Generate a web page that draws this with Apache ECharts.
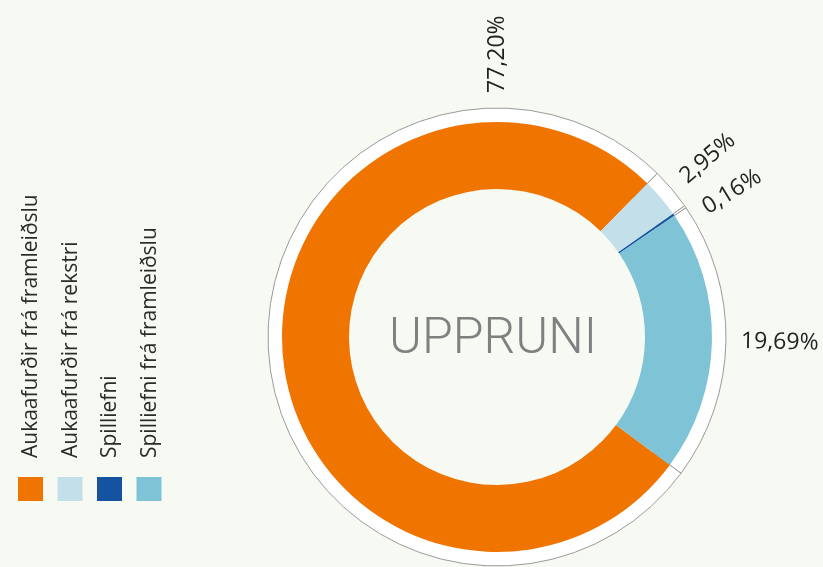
<!DOCTYPE html>
<html>
<head>
<meta charset="utf-8">
<script src="https://cdn.jsdelivr.net/npm/echarts@6/dist/echarts.min.js"></script>
<style>
html,body{margin:0;padding:0;background:#f6faf3;}
#chart{width:823px;height:567px;}
</style>
</head>
<body>
<div id="chart"></div>
<script>
// ---- data ----
const categories = ['Aukaafurðir frá framleiðslu', 'Aukaafurðir frá rekstri', 'Spilliefni', 'Spilliefni frá framleiðslu'];
const values = [77.20, 2.95, 0.16, 19.69];
const colors = ['#f07400', '#c3dfea', '#1553a1', '#7fc3d6'];
const centerTitle = 'UPPRUNI';

// ---- layout ----
const CX = 497, CY = 337;
const R_IN = 148, R_OUT = 215, R_RING = 229, LABEL_R = 244;
const START_ANGLE = -36.5;
const LABEL_ANGLE_OVERRIDE = {0: 90};
const LABEL_ANGLE_NUDGE = {2: -3};
const LEG_X0 = 30.5, LEG_DX = 39.5, LEG_SW = 25, LEG_SH = 24, LEG_SY = 477, LEG_TY = 458;
const FONT = '"Open Sans", Roboto, sans-serif';

const total = values.reduce((a, b) => a + b, 0);
function labelAngle(i) {
  if (LABEL_ANGLE_OVERRIDE[i] != null) return LABEL_ANGLE_OVERRIDE[i];
  let cum = 0;
  for (let k = 0; k < i; k++) cum += values[k];
  return START_ANGLE - (cum + values[i] / 2) / total * 360 + (LABEL_ANGLE_NUDGE[i] || 0);
}

const pieData = categories.map((c, i) => ({name: c, value: values[i], itemStyle: {color: colors[i]}}));

const graphic = [];
categories.forEach((c, i) => {
  const cx = LEG_X0 + i * LEG_DX;
  graphic.push({
    type: 'rect', silent: true,
    shape: {x: cx - LEG_SW / 2, y: LEG_SY, width: LEG_SW, height: LEG_SH},
    style: {fill: colors[i]}
  });
  graphic.push({
    type: 'text', silent: true,
    x: cx + 1, y: LEG_TY, rotation: Math.PI / 2,
    style: {
      text: c, fill: '#2b2b2b', font: '21px ' + FONT,
      align: 'left', verticalAlign: 'middle',
      textAlign: 'left', textVerticalAlign: 'middle'
    }
  });
});
graphic.push({
  type: 'text', silent: true, x: CX - 4, y: CY + 3, z: 10,
  style: {
    text: centerTitle, fill: '#808080', font: '300 50px Roboto, "Open Sans", sans-serif',
    align: 'center', verticalAlign: 'middle',
    textAlign: 'center', textVerticalAlign: 'middle'
  }
});

const chart = echarts.init(document.getElementById('chart'), null, {renderer: 'canvas'});
chart.setOption({
  backgroundColor: '#f6faf3',
  animation: false,
  graphic: graphic,
  series: [
    {
      type: 'pie', silent: true, z: 1,
      center: [CX, CY], radius: [R_OUT - 20, R_RING],
      startAngle: START_ANGLE, clockwise: true,
      label: {show: false}, labelLine: {show: false},
      emphasis: {disabled: true},
      itemStyle: {color: '#ffffff', borderColor: '#9a9a9a', borderWidth: 1},
      data: categories.map((c, i) => ({name: c, value: values[i]}))
    },
    {
      type: 'pie', silent: true, z: 2,
      center: [CX, CY], radius: [R_IN, R_OUT],
      startAngle: START_ANGLE, clockwise: true,
      emphasis: {disabled: true},
      itemStyle: {borderWidth: 0},
      avoidLabelOverlap: false,
      label: {
        show: true, position: 'outside',
        color: '#222222', fontSize: 23, fontFamily: FONT,
        formatter: p => p.value.toFixed(2).replace('.', ',') + '%'
      },
      labelLine: {show: false},
      labelLayout: function (p) {
        const a = labelAngle(p.dataIndex);
        const rad = a * Math.PI / 180;
        return {
          x: CX + LABEL_R * Math.cos(rad),
          y: CY - LABEL_R * Math.sin(rad),
          rotate: a, align: 'left', verticalAlign: 'middle',
          hideOverlap: false
        };
      },
      data: pieData
    }
  ]
});
</script>
</body>
</html>
